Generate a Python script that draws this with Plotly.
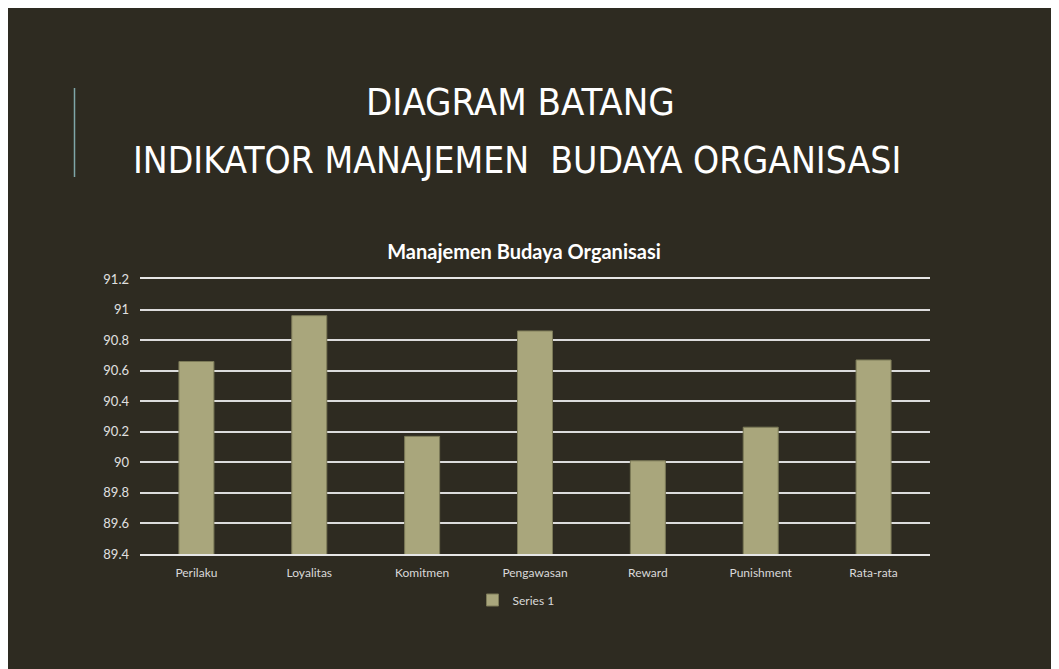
import plotly.graph_objects as go

categories = ["Perilaku", "Loyalitas", "Komitmen", "Pengawasan", "Reward", "Punishment", "Rata-rata"]
series_1 = [90.66, 90.96, 90.17, 90.86, 90.01, 90.23, 90.67]

BG = "#2e2b21"
W, H = 1051, 661
L, R, T, B = 132, 129, 271, 115
PW, PH = W - L - R, H - T - B


def px(x):
    # page pixel x -> paper coordinate
    return (x - 8 - L) / PW


def py(y):
    # page pixel y -> paper coordinate
    return 1 - (y - 8 - T) / PH


fig = go.Figure()
fig.add_trace(go.Bar(
    x=categories,
    y=series_1,
    name="Series 1",
    marker=dict(color="#a9a67c", line=dict(color="#7c7a58", width=1)),
))

fig.update_layout(
    width=W,
    height=H,
    paper_bgcolor=BG,
    plot_bgcolor=BG,
    margin=dict(l=L, r=R, t=T, b=B),
    bargap=0.69,
    font=dict(family="Lato", color="#d9d9d9", size=12),
    showlegend=True,
    legend=dict(
        orientation="h", x=px(516), xanchor="center", y=py(600), yanchor="middle",
        font=dict(size=12, color="#d9d9d9"), itemwidth=30,
    ),
    title=dict(
        text="<b>Manajemen Budaya Organisasi</b>",
        x=px(524), xanchor="center", xref="paper",
        y=1 - (252 - 8) / H, yanchor="middle", yref="container",
        font=dict(family="Lato", size=20, color="#ffffff"),
    ),
    xaxis=dict(
        showgrid=False, showline=True, mirror=True, linecolor="#e6e6e6", linewidth=2,
        ticks="", ticklabelstandoff=7, tickfont=dict(size=12, color="#d9d9d9"),
    ),
    yaxis=dict(
        range=[89.4, 91.2], dtick=0.2, tick0=89.4,
        showgrid=True, gridcolor="#dcdcdc", gridwidth=2,
        zeroline=False, showline=False, ticks="", ticklabelstandoff=10,
        tickfont=dict(size=13, color="#e0e0e0"),
    ),
)

# slide title
fig.add_annotation(
    text="DIAGRAM BATANG", xref="paper", yref="paper",
    x=px(520), y=py(102), xanchor="center", yanchor="middle", showarrow=False,
    font=dict(family="DejaVu Sans Condensed", size=38, color="#ffffff"),
)
fig.add_annotation(
    text="INDIKATOR MANAJEMEN  BUDAYA ORGANISASI", xref="paper", yref="paper",
    x=px(517), y=py(161), xanchor="center", yanchor="middle", showarrow=False,
    font=dict(family="DejaVu Sans Condensed", size=37, color="#ffffff"),
)

# accent bar left of the title
fig.add_shape(
    type="line", xref="paper", yref="paper",
    x0=px(74.5), x1=px(74.5), y0=py(88), y1=py(177),
    line=dict(color="#7fa6a8", width=1.5),
)

fig.write_html("out.html")
